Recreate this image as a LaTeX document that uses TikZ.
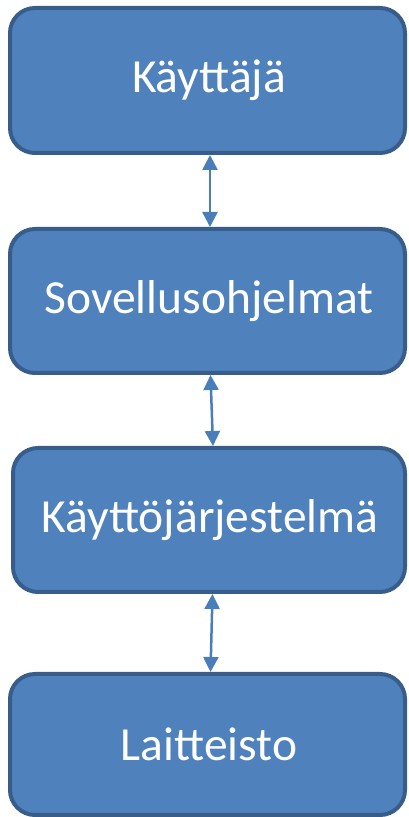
\documentclass[tikz,border=0pt]{standalone}
\usepackage{fontspec}
\setmainfont{Carlito}
\usetikzlibrary{arrows.meta}
\definecolor{boxfill}{HTML}{4F81BD}
\definecolor{boxline}{HTML}{385D8A}
\definecolor{arrowc}{HTML}{4A7EBB}
\begin{document}
\begin{tikzpicture}[x=1pt,y=1pt,
  layer/.style={draw=boxline, fill=boxfill, line width=4pt, rounded corners=25pt,
    text=white, font=\fontsize{47.5}{56}\selectfont, inner sep=0pt},
  link/.style={draw=arrowc, line width=2.5pt,
    {Triangle[width=15pt,length=15pt]}-{Triangle[width=15pt,length=15pt]}}]
\useasboundingbox (0,0) rectangle (408,817);
\node[layer, minimum width=395pt, minimum height=145pt] (k) at (207.5,736.5) {\hspace*{3pt}Käyttäjä};
\node[layer, minimum width=395pt, minimum height=144pt] (s) at (207.5,516) {\hspace*{3pt}Sovellusohjelmat};
\node[layer, minimum width=392pt, minimum height=144pt] (o) at (209,297) {\hspace*{2pt}Käyttöjärjestelmä};
\node[layer, minimum width=395pt, minimum height=141pt] (l) at (207.5,72.5) {\hspace*{3pt}Laitteisto};
\draw[link] ([xshift=2.5pt]k.south) -- ([xshift=2.5pt]s.north);
\draw[link] ([xshift=3pt]s.south) -- ([xshift=4pt]o.north);
\draw[link] ([xshift=3.5pt]o.south) -- ([xshift=3pt]l.north);
\end{tikzpicture}
\end{document}
